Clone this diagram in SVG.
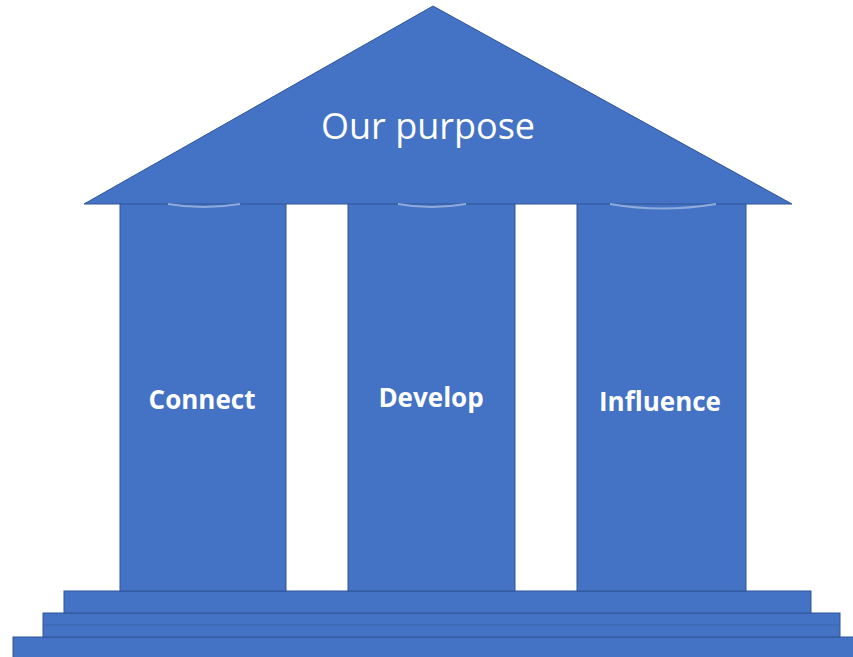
<svg xmlns="http://www.w3.org/2000/svg" width="853" height="657" viewBox="0 0 853 657">
<style>
.b{fill:#4472C4;stroke:#2F5597;stroke-width:1}
.t{fill:#ffffff;font-family:"Open Sans","Liberation Sans",sans-serif;text-anchor:middle}
.c{font-weight:bold;font-size:26px}
.h{fill:none;stroke:#8FAADC;stroke-width:2}
</style>
<rect width="853" height="657" fill="#ffffff"/>
<g id="steps">
<rect class="b" x="13" y="637" width="845" height="25"/>
<rect class="b" x="43" y="613" width="797" height="24"/>
<line x1="43" y1="625" x2="840" y2="625" stroke="#3A64AE" stroke-width="1"/>
<rect class="b" x="64" y="591" width="747" height="22"/>
</g>
<g id="col-connect">
<rect class="b" x="120" y="200" width="166" height="391"/>
<text class="t c" x="202" y="409">Connect</text>
</g>
<g id="col-develop">
<rect class="b" x="348" y="200" width="167" height="391"/>
<text class="t c" x="431" y="407">Develop</text>
</g>
<g id="col-influence">
<rect class="b" x="577" y="200" width="169" height="391"/>
<text class="t c" x="660" y="411">Influence</text>
</g>
<g id="roof">
<polygon class="b" points="433,6 84,204 792,204"/>
<path class="h" d="M168,204 Q203,210 240,204"/>
<path class="h" d="M398,204 Q431,210 466,204"/>
<path class="h" d="M610,204 Q662,213 716,204"/>
<text class="t" x="428" y="139" font-size="36">Our purpose</text>
</g>
</svg>
